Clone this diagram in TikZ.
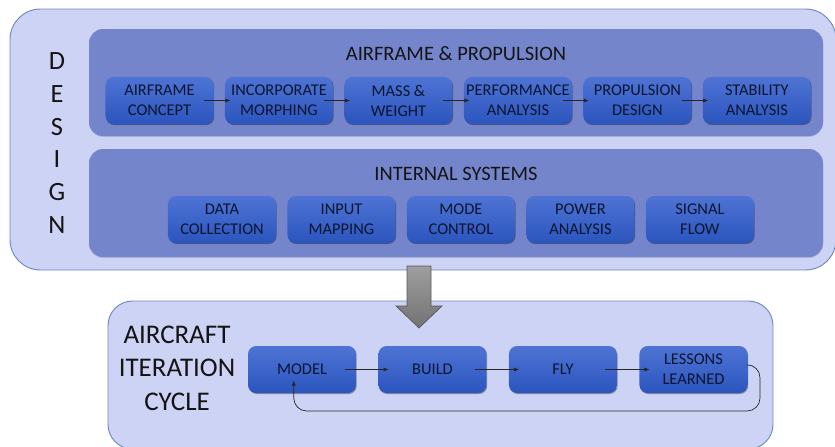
\documentclass[tikz,border=0pt]{standalone}
\usepackage{fontspec}
\setmainfont{Carlito}
\usetikzlibrary{positioning, shadows, arrows.meta}

\definecolor{outerfill}{HTML}{CDD3F4}
\definecolor{outerline}{HTML}{6F88C4}
\definecolor{panelfill}{HTML}{7585CC}
\definecolor{boxtop}{HTML}{4E73D4}
\definecolor{boxbot}{HTML}{2B55BE}
\definecolor{boxtext}{HTML}{0C1530}
\definecolor{labeltext}{HTML}{141414}

\tikzset{
  outer/.style={draw=outerline, fill=outerfill, line width=0.8pt},
  panel/.style={fill=panelfill, rounded corners=12pt,
    drop shadow={shadow xshift=0pt, shadow yshift=-0.8pt, opacity=0.15, fill=black}},
  stage/.style={rounded corners=7pt, top color=boxtop, bottom color=boxbot,
    minimum width=3.24cm, minimum height=1.41cm, inner xsep=1pt, align=center, text=boxtext,
    font=\fontsize{14}{17}\selectfont,
    drop shadow={shadow xshift=0.6pt, shadow yshift=-0.9pt, opacity=0.35, fill=black}},
  title/.style={text=labeltext, font=\fontsize{17.5}{20}\selectfont},
  bigword/.style={text=labeltext, align=center},
  flow/.style={-{Latex[length=4.5pt,width=3.5pt]}, line width=0.6pt, black!85},
  shortflow/.style={flow, shorten <=-8pt, shorten >=-5pt},
  longflow/.style={flow, shorten <=-10pt, shorten >=-9pt},
  bigarrow/.style={draw=black!65, line width=0.6pt, top color=black!38, bottom color=black!55},
}

\begin{document}
\begin{tikzpicture}[x=0.03cm, y=-0.03cm]
    \useasboundingbox (0,0) rectangle (835,447);

    % Cadres
    \draw[outer, rounded corners=26pt] (10,9) rectangle (836,270);
    \fill[panel] (89,29) rectangle (823,136);
    \fill[panel] (89,149) rectangle (823,257);
    \draw[outer, rounded corners=21pt] (108,301) rectangle (773,449);

    % Titres
    \node[bigword, font=\fontsize{22.5}{28}\selectfont] (design) at (57,143) {D\\E\\S\\I\\G\\N};
    \node[title] (airprop) at (456,54) {AIRFRAME \& PROPULSION};
    \node[title] (internal) at (456,174) {INTERNAL SYSTEMS};
    \node[bigword, font=\fontsize{23}{28.6}\selectfont] (cyclename) at (177,368) {AIRCRAFT\\ITERATION\\CYCLE};

    % Airframe & propulsion
    \node[stage] (concept) at (159.5,100.5) {AIRFRAME\\CONCEPT};
    \node[stage, right=0.33cm of concept] (morphing) {INCORPORATE\\MORPHING};
    \node[stage, right=0.33cm of morphing] (mass) {MASS \&\\WEIGHT};
    \node[stage, right=0.33cm of mass] (perf) {PERFORMANCE\\ANALYSIS};
    \node[stage, right=0.33cm of perf] (propdesign) {PROPULSION\\DESIGN};
    \node[stage, right=0.33cm of propdesign] (stability) {STABILITY\\ANALYSIS};

    \draw[shortflow] (concept) -- (morphing);
    \draw[shortflow] (morphing) -- (mass);
    \draw[shortflow] (mass) -- (perf);
    \draw[shortflow] (perf) -- (propdesign);
    \draw[shortflow] (propdesign) -- (stability);

    % Internal systems
    \node[stage] (data) at (222,219.5) {DATA\\COLLECTION};
    \node[stage, right=0.33cm of data] (input) {INPUT\\MAPPING};
    \node[stage, right=0.33cm of input] (mode) {MODE\\CONTROL};
    \node[stage, right=0.33cm of mode] (power) {POWER\\ANALYSIS};
    \node[stage, right=0.33cm of power] (signal) {SIGNAL\\FLOW};

    % Fleche vers le cycle
    \draw[bigarrow] (407,266) -- (431,266) -- (431,306) -- (442,306) -- (419,328)
        -- (396,306) -- (407,306) -- cycle;

    % Cycle
    \node[stage] (model) at (302,369.5) {MODEL};
    \node[stage, right=0.66cm of model] (build) {BUILD};
    \node[stage, right=0.66cm of build] (fly) {FLY};
    \node[stage, right=0.66cm of fly] (lessons) {LESSONS\\LEARNED};

    \draw[longflow] (model) -- (build);
    \draw[longflow] (build) -- (fly);
    \draw[longflow] (fly) -- (lessons);

    % Retour
    \coordinate (loop) at (760,411);
    \draw[flow, rounded corners=11pt] ([yshift=4pt]lessons.east) -| (loop)
        -| ([xshift=-7pt,yshift=11pt]model.south);
\end{tikzpicture}
\end{document}
